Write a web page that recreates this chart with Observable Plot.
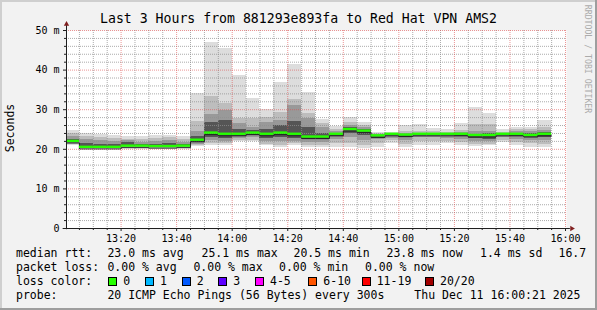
<!DOCTYPE html>
<html><head><meta charset="utf-8">
<script src="https://cdn.jsdelivr.net/npm/d3@7"></script>
<script src="https://cdn.jsdelivr.net/npm/@observablehq/plot@0.6"></script>
<style>
html,body{margin:0;padding:0;background:#f2f2f2;}
#wrap{position:relative;width:597px;height:310px;background:#f2f2f2;overflow:hidden;font-family:"DejaVu Sans Mono",monospace;color:#000;box-sizing:border-box;}
#wrap svg{position:absolute;left:0;top:0;}
.t{position:absolute;white-space:pre;line-height:1;}
.sw{position:absolute;width:7px;height:7px;border:1px solid #000;}
.bd{position:absolute;}
</style></head><body><div id="wrap"></div>
<script>
// ---- texts ----
const title = "Last 3 Hours from 881293e893fa to Red Hat VPN AMS2";
const yLabel = "Seconds";
const sideText = "RRDTOOL / TOBI OETIKER";
const rangeStart = "13:00:21", rangeEnd = "16:00:21";

// ---- ticks ----
const xTickLabels = ["13:20","13:40","14:00","14:20","14:40","15:00","15:20","15:40","16:00"];
const yTickValues = [0, 10, 20, 30, 40, 50];
const yTickLabels = ["0", "10 m", "20 m", "30 m", "40 m", "50 m"];

// ---- data: one column per 5-minute probe (ms) ----
const times = ["13:00","13:05","13:10","13:15","13:20","13:25","13:30","13:35","13:40","13:45",
               "13:50","13:55","14:00","14:05","14:10","14:15","14:20","14:25","14:30","14:35",
               "14:40","14:45","14:50","14:55","15:00","15:05","15:10","15:15","15:20","15:25",
               "15:30","15:35","15:40","15:45","15:50"];
const median = [22.0,20.5,20.5,20.5,20.8,20.8,20.7,20.7,20.8,22.3,24.1,23.8,23.8,24.1,23.8,24.1,23.8,23.1,23.1,23.8,25.0,24.6,23.4,23.8,23.6,23.8,23.8,23.8,23.8,23.5,23.5,23.8,23.8,23.5,23.8];
const pMax = [24.7,24.1,23.8,23.6,23.3,23.3,23.5,23.6,23.3,34.0,47.0,45.5,38.6,32.9,30.0,36.9,41.5,34.3,27.5,25.8,28.0,26.7,24.3,24.2,26.0,26.2,25.2,24.9,26.5,30.6,29.0,24.9,25.5,25.6,27.3];
const pHi2 = [24.0,23.3,23.0,22.8,22.6,22.5,22.8,22.9,22.5,27.0,33.3,31.5,27.7,27.7,28.0,29.2,32.7,29.0,26.5,25.0,26.8,26.0,24.0,24.0,24.6,24.5,24.4,24.3,24.8,26.3,26.3,24.3,25.0,25.0,25.5];
const pHi3 = [23.3,22.5,22.3,22.0,22.3,21.8,22.0,22.1,21.8,24.5,28.8,29.8,26.5,25.5,26.7,27.3,31.0,27.8,25.5,24.5,26.0,25.5,23.8,23.9,24.0,24.1,24.1,24.0,24.2,24.5,24.6,24.0,24.5,24.4,24.8];
const pHi4 = [22.6,21.5,21.3,21.2,21.8,21.3,21.3,21.4,21.3,23.3,26.7,27.3,25.0,24.7,25.0,26.0,27.0,25.5,24.0,24.0,25.4,25.0,23.6,23.8,23.8,23.9,23.9,23.9,24.0,23.8,24.0,23.9,24.1,24.0,24.2];
const pLo4 = [21.7,20.4,20.4,20.4,20.6,20.6,20.5,20.5,20.6,21.8,23.0,22.8,23.2,23.6,22.8,23.0,22.8,22.5,22.5,23.2,24.0,23.5,23.0,23.4,23.0,23.5,23.5,23.4,23.2,22.8,22.6,23.5,23.2,22.9,23.0];
const pLo3 = [21.4,20.3,20.3,20.3,20.4,20.4,20.4,20.4,20.4,21.3,22.2,22.0,22.8,23.0,22.0,22.0,22.0,21.8,21.8,22.5,23.0,22.3,22.4,22.8,22.3,23.0,23.0,22.8,22.5,22.0,21.9,23.0,22.4,22.3,22.2];
const pLo2 = [21.2,20.2,20.2,20.2,20.3,20.3,20.3,20.3,20.3,21.0,21.5,21.5,22.3,22.3,21.3,21.0,21.5,21.0,21.0,21.5,21.5,21.0,21.5,22.2,21.3,22.0,22.0,22.0,21.8,21.3,21.3,22.3,21.6,21.5,21.2];
const pMin = [21.0,20.1,20.1,20.1,20.2,20.2,20.2,20.2,20.2,20.7,21.0,21.0,22.0,22.0,21.0,20.5,21.0,20.5,20.5,20.4,20.4,20.1,20.4,21.5,20.4,21.0,21.0,21.4,21.0,20.6,21.0,21.8,21.0,20.4,20.5];
const stepMinutes = 5;

// ---- legend ----
const legendRtt = [["median rtt:",16],["23.0 ms avg",107.4],["25.1 ms max",201.5],["20.5 ms min",293.5],["23.8 ms now",386.5],["1.4 ms sd",480],["16.7",558.5]];
const legendLoss = [["packet loss:",16],["0.00 % avg",107.4],["0.00 % max",193.4],["0.00 % min",279],["0.00 % now",365]];
const lossLabels = ["0","1","2","3","4-5","6-10","11-19","20/20"];
const lossColors = ["#26ff00","#00b8ff","#0059ff","#5e00ff","#ff00ff","#ff5500","#ff0000","#a10000"];
const lossBoxX = [108.3,145,181.7,218.3,255,308.3,361.7,425];
const legendProbe = [["probe:",16],["20 ICMP Echo Pings (56 Bytes) every 300s",107.4],["Thu Dec 11 16:00:21 2025",414.3]];

// ---- build ----
const toMin = s => { const p = s.split(":").map(Number); return p[0]*60 + p[1] + (p[2]||0)/60; };
const t0 = toMin(rangeStart), t1 = toMin(rangeEnd);
const rows = times.map((t,i) => ({x1: toMin(t), x2: toMin(t)+stepMinutes, med: median[i],
  b: [[pMin[i],pMax[i]],[pLo2[i],pHi2[i]],[pLo3[i],pHi3[i]],[pLo4[i],pHi4[i]]]}));
const bandColors = ["#dddddd","#bdbdbd","#999999","#555555"];
const linePts = rows.map(r => ({x: r.x1, y: r.med})).concat([{x: rows[rows.length-1].x2, y: rows[rows.length-1].med}]);
const xTicks = xTickLabels.map(toMin);
const majorX = new Set(xTicks.map(v => Math.round(v)));
const minorX = d3.range(Math.ceil(t0/5)*5, t1, 5).filter(v => !majorX.has(v));
const minorY = d3.range(2, 50, 2).filter(v => v % 10 !== 0);
const gridStyle = {stroke: "rgb(143,143,143)", strokeOpacity: 0.75, strokeDasharray: "1,1"};
const mgridStyle = {stroke: "rgb(222,79,79)", strokeOpacity: 0.6, strokeDasharray: "1,1"};
const fmtX = v => xTickLabels[xTicks.indexOf(v)];
const fmtY = v => yTickLabels[yTickValues.indexOf(v)];

const marks = [Plot.frame({fill: "#ffffff", stroke: "none"})];
bandColors.forEach((c, k) => {
  marks.push(Plot.rectY(rows, {x1: "x1", x2: "x2", y1: d => d.b[k][0], y2: d => d.b[k][1], fill: c, clip: true, shapeRendering: "crispEdges"}));
});
marks.push(
  Plot.ruleX(minorX, gridStyle),
  Plot.ruleY(minorY, gridStyle),
  Plot.ruleX(xTicks, mgridStyle),
  Plot.ruleY(yTickValues.filter(v => v > 0), mgridStyle),
  Plot.line(linePts, {x: "x", y: d => d.y - 0.4, curve: "step-after", stroke: "#202020", strokeWidth: 1, clip: true}),
  Plot.rectY(rows, {x1: "x1", x2: "x2", y1: d => d.med - 0.3, y2: d => d.med + 0.3, fill: "#26ff00", clip: true}),
  Plot.axisY(yTickValues, {tickFormat: fmtY, tickSize: 3, tickPadding: 4, fontSize: 10, stroke: "#1f1f1f", label: null}),
  Plot.axisY(minorY, {tickFormat: () => "", tickSize: 2, stroke: "#1f1f1f", label: null}),
  Plot.axisX(xTicks, {tickFormat: fmtX, tickSize: 3, tickPadding: 3, fontSize: 10, stroke: "#1f1f1f", label: null}),
  Plot.axisX(minorX, {tickFormat: () => "", tickSize: 2, stroke: "#1f1f1f", label: null}),
  Plot.ruleY([0], {x1: t0 - 1.2, x2: t1 + 1.4, stroke: "#1f1f1f"}),
  Plot.ruleX([t0], {y1: -0.3, y2: 51.3, stroke: "#1f1f1f"}),
  Plot.dot([t0], {x: d => d, y: 51.6, symbol: "triangle", r: 2, fill: "#801f1f", stroke: "none"}),
  Plot.dot([t1], {x: d => d + 1.9, y: 0, symbol: "triangle", r: 2, fill: "#801f1f", stroke: "none", rotate: 90})
);

const chart = Plot.plot({
  width: 597, height: 310,
  marginTop: 30, marginBottom: 82, marginLeft: 66, marginRight: 31,
  x: {domain: [t0, t1]},
  y: {domain: [0, 50]},
  style: {background: "transparent", fontFamily: "'DejaVu Sans Mono', monospace", fontSize: "10px", color: "#000"},
  marks
});

const wrap = document.getElementById("wrap");
wrap.appendChild(chart);

function txt(s, x, base, size, extra) {
  const d = document.createElement("div");
  d.className = "t";
  d.textContent = s;
  d.style.fontSize = size + "px";
  d.style.left = x + "px";
  d.style.top = (base - 0.846*size) + "px";
  if (extra) Object.assign(d.style, extra);
  wrap.appendChild(d);
  return d;
}
// title
txt(title, 0, 23.5, 13.2, {width: "597px", textAlign: "center"});
// y label
const yl = txt(yLabel, 0, 0, 11.5, {});
yl.style.left = "10.8px"; yl.style.top = "128px";
yl.style.transform = "translate(-50%,-50%) rotate(-90deg)";
// side text
const st = txt(sideText, 0, 0, 8.2, {color: "#ababab"});
st.style.left = "587.5px"; st.style.top = "59px";
st.style.transform = "translate(-50%,-50%) rotate(90deg)";
// legend
const fs = 11.5;
legendRtt.forEach(([s,x]) => txt(s, x, 257.8, fs));
legendLoss.forEach(([s,x]) => txt(s, x, 271.8, fs));
txt("loss color:", 16, 285.5, fs);
lossLabels.forEach((l, i) => {
  const b = document.createElement("div");
  b.className = "sw";
  b.style.left = lossBoxX[i] + "px"; b.style.top = "277px"; b.style.background = lossColors[i];
  wrap.appendChild(b);
  txt(l, lossBoxX[i] + 15, 285.5, fs);
});
legendProbe.forEach(([s,x]) => txt(s, x, 299.5, fs));
// bevel border
[["0","0","597px","2px","#cfcfcf"],["0","0","2px","310px","#cfcfcf"],["595px","0","2px","310px","#9e9e9e"],["0","308px","597px","2px","#9e9e9e"]].forEach(([l,t,w,h,c]) => {
  const d = document.createElement("div"); d.className = "bd";
  Object.assign(d.style, {left: l, top: t, width: w, height: h, background: c});
  wrap.appendChild(d);
});
</script></body></html>
